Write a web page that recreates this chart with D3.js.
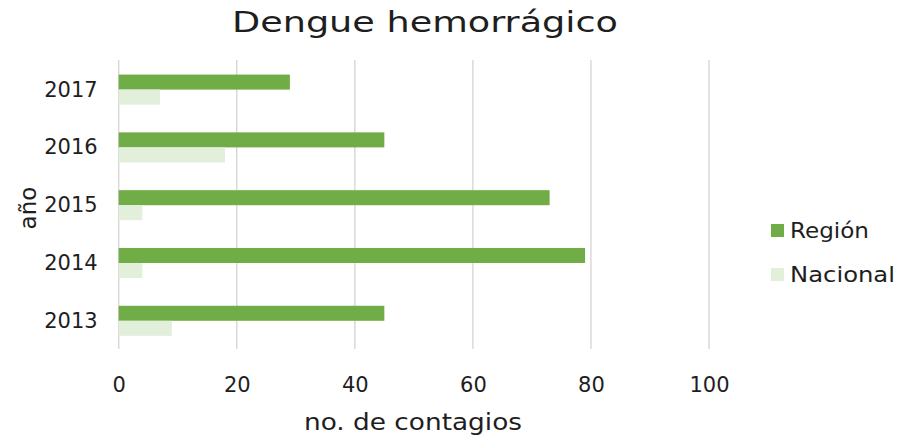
<!DOCTYPE html>
<html>
<head>
<meta charset="utf-8">
<script src="https://cdn.jsdelivr.net/npm/d3@7"></script>
<style>
	body { margin: 0; background: #fff; }
	text { font-family: "DejaVu Sans", sans-serif; fill: #1e1e1e; }
</style>
</head>
<body>
<svg id="chart" width="897" height="437"></svg>
<script>
var years = ['2013', '2014', '2015', '2016', '2017'];
var region = [45, 79, 73, 45, 29];
var nacional = [9, 4, 4, 18, 7];
var seriesNames = ['Región', 'Nacional'];
var seriesColors = ['#70AD47', '#E2EFDA'];
var xTicks = [0, 20, 40, 60, 80, 100];

var svg = d3.select('#chart');

var x = d3.scaleLinear().domain([0, 100]).range([118.7, 709]);
var y = d3.scaleBand().domain(years.slice().reverse()).range([60, 349]).paddingInner(0.48).paddingOuter(0.24);
var sub = d3.scaleBand().domain(seriesNames).range([0, y.bandwidth()]);

// gridlines
svg.append('g').selectAll('line')
	.data(xTicks)
	.enter()
	.append('line')
	.attr('x1', function(d) { return x(d); })
	.attr('x2', function(d) { return x(d); })
	.attr('y1', 60)
	.attr('y2', 349)
	.attr('stroke', '#d9d9d9')
	.attr('stroke-width', 1.5);

var rows = years.map(function(yr, i) {
	return {year: yr, values: [region[i], nacional[i]]};
});

var g = svg.append('g');
rows.forEach(function(r) {
	r.values.forEach(function(v, k) {
		g.append('rect')
			.attr('x', x(0))
			.attr('y', y(r.year) + sub(seriesNames[k]) + 0.7)
			.attr('width', x(v) - x(0))
			.attr('height', sub.bandwidth())
			.attr('fill', seriesColors[k]);
	});
});

// x axis labels
var xAxis = d3.axisBottom(x).tickValues(xTicks).tickSize(0).tickPadding(0);
var xa = svg.append('g').attr('transform', 'translate(0,377)').call(xAxis);
xa.select('.domain').remove();
xa.selectAll('text').attr('dy', '0.72em').style('font-size', '21px').attr('fill', '#1e1e1e').attr('font-family', 'DejaVu Sans');

var yAxis = d3.axisLeft(y).tickSize(0).tickPadding(21);
var ya = svg.append('g').attr('transform', 'translate(' + x(0) + ',1)').call(yAxis);
ya.select('.domain').remove();
ya.selectAll('text').style('font-size', '21px').attr('fill', '#1e1e1e').attr('font-family', 'DejaVu Sans');

// titles
svg.append('text')
	.attr('x', 232)
	.attr('y', 32)
	.attr('textLength', 386)
	.attr('lengthAdjust', 'spacingAndGlyphs')
	.style('font-size', '29px')
	.text('Dengue hemorrágico');

svg.append('text')
	.attr('x', 304)
	.attr('y', 430)
	.attr('textLength', 218)
	.attr('lengthAdjust', 'spacingAndGlyphs')
	.style('font-size', '23px')
	.text('no. de contagios');

svg.append('text')
	.attr('transform', 'translate(36,208) rotate(-90)')
	.attr('text-anchor', 'middle')
	.style('font-size', '23px')
	.text('año');

// legend
var legendWidths = [79, 105];
var leg = svg.append('g').selectAll('g')
	.data(seriesNames)
	.enter()
	.append('g')
	.attr('transform', function(d, i) { return 'translate(771,' + (224 + i * 44) + ')'; });
leg.append('rect')
	.attr('width', 13)
	.attr('height', 13)
	.attr('fill', function(d, i) { return seriesColors[i]; });
leg.append('text')
	.attr('x', 19)
	.attr('y', 14)
	.attr('textLength', function(d, i) { return legendWidths[i]; })
	.attr('lengthAdjust', 'spacingAndGlyphs')
	.style('font-size', '22px')
	.text(function(d) { return d; });
</script>
</body>
</html>
